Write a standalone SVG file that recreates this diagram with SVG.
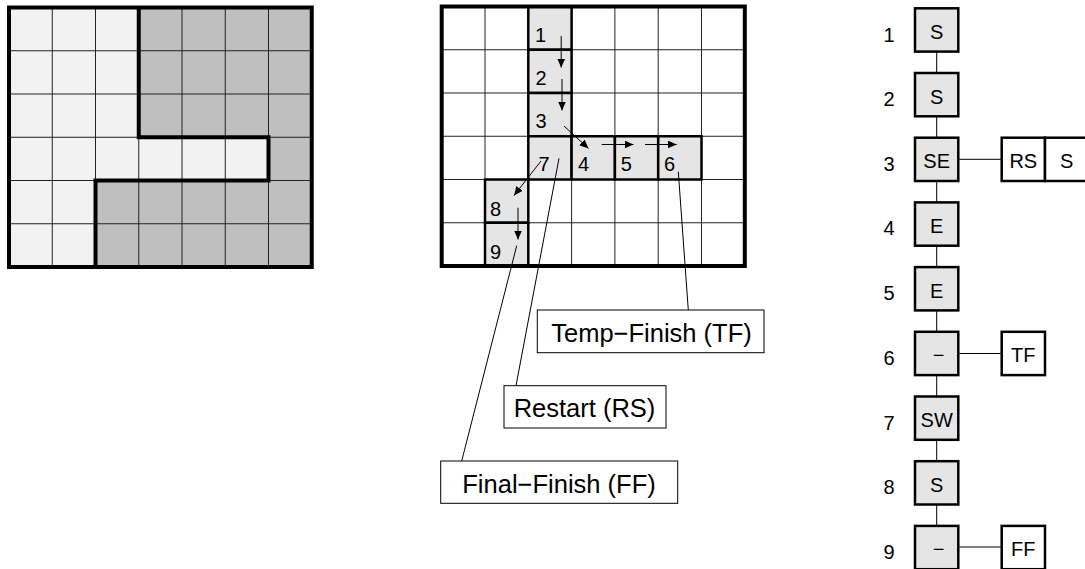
<svg xmlns="http://www.w3.org/2000/svg" width="1085" height="569" viewBox="0 0 1085 569">
<defs>
<style>
text{font-family:"Liberation Sans",Arial,sans-serif;fill:#000}
.thin{stroke:#222;stroke-width:1;fill:none}
.thick{stroke:#000;stroke-width:4;fill:none}
.cell{fill:#e5e5e5;stroke:#000;stroke-width:2.5}
.num{font-size:20px}
.mid{font-size:20px;text-anchor:middle}
.lab{font-size:25.5px;text-anchor:middle}
.lbox{fill:#fff;stroke:#000;stroke-width:1}
.arrow{stroke:#000;stroke-width:1;fill:none;marker-end:url(#ah)}
.lead{stroke:#000;stroke-width:1;fill:none}
.node{fill:#e5e5e5;stroke:#000;stroke-width:2.5}
.side{fill:#fff;stroke:#000;stroke-width:2.5}
.conn{stroke:#000;stroke-width:1;fill:none}
</style>
<marker id="ah" markerUnits="userSpaceOnUse" markerWidth="9" markerHeight="8" refX="9" refY="4" orient="auto">
<path d="M0,0 L9,4 L0,8 z" fill="#000"/>
</marker>
</defs>
<rect width="1085" height="569" fill="#fff"/>

<!-- Left grid -->
<g id="left-grid">
<rect x="9" y="7.5" width="302.75" height="259.5" fill="#f2f2f2"/>
<path d="M138.75,7.5 H311.75 V267 H95.5 V180.5 H268.5 V137.25 H138.75 Z" fill="#bfbfbf"/>
<path class="thin" d="M52.25,7.5V267M95.5,7.5V267M138.75,7.5V267M182,7.5V267M225.25,7.5V267M268.5,7.5V267M9,50.75H311.75M9,94H311.75M9,137.25H311.75M9,180.5H311.75M9,223.75H311.75"/>
<path class="thick" d="M138.75,7.5 V137.25 H268.5 V180.5 H95.5 V267"/>
<rect class="thick" x="9" y="7.5" width="302.75" height="259.5"/>
</g>

<!-- Middle grid -->
<g id="middle-grid">
<path class="thin" d="M485,6.5V266M528.3,6.5V266M571.6,6.5V266M614.9,6.5V266M658.2,6.5V266M701.5,6.5V266M441.7,49.75H744.8M441.7,93H744.8M441.7,136.25H744.8M441.7,179.5H744.8M441.7,222.75H744.8"/>
<rect class="cell" x="528.3" y="6.5" width="43.3" height="43.25"/>
<rect class="cell" x="528.3" y="49.75" width="43.3" height="43.25"/>
<rect class="cell" x="528.3" y="93" width="43.3" height="43.25"/>
<rect class="cell" x="528.3" y="136.25" width="43.3" height="43.25"/>
<rect class="cell" x="571.6" y="136.25" width="43.3" height="43.25"/>
<rect class="cell" x="614.9" y="136.25" width="43.3" height="43.25"/>
<rect class="cell" x="658.2" y="136.25" width="43.3" height="43.25"/>
<rect class="cell" x="485" y="179.5" width="43.3" height="43.25"/>
<rect class="cell" x="485" y="222.75" width="43.3" height="43.25"/>
<rect class="thick" x="441.7" y="6.5" width="303.1" height="259.5"/>
<text class="num" x="535" y="42">1</text>
<text class="num" x="535.5" y="85.2">2</text>
<text class="num" x="535.5" y="128.4">3</text>
<text class="num" x="538.5" y="170.5">7</text>
<text class="num" x="578" y="170.5">4</text>
<text class="num" x="620.8" y="170.5">5</text>
<text class="num" x="664" y="170.5">6</text>
<text class="num" x="490" y="216">8</text>
<text class="num" x="490" y="259.3">9</text>
</g>

<!-- Middle grid arrows and leaders -->
<g id="path-arrows">
<line class="arrow" x1="561.2" y1="36" x2="561.2" y2="67.5"/>
<line class="arrow" x1="562" y1="79" x2="562" y2="110.5"/>
<line class="arrow" x1="564" y1="126" x2="588.5" y2="148.5"/>
<line class="arrow" x1="601.7" y1="144.5" x2="633.5" y2="144.5"/>
<line class="arrow" x1="645" y1="144.5" x2="676.7" y2="144.5"/>
<line class="arrow" x1="541" y1="161" x2="514" y2="195.5"/>
<line class="arrow" x1="518" y1="207.7" x2="518" y2="239.5"/>
<line class="lead" x1="678.3" y1="171.7" x2="688.3" y2="310"/>
<line class="lead" x1="559" y1="158.3" x2="516" y2="385.7"/>
<line class="lead" x1="516.7" y1="245.7" x2="461.7" y2="461"/>
</g>

<g id="label-tf">
<rect class="lbox" x="537.3" y="310" width="226.7" height="42.7"/>
<text class="lab" x="651.5" y="341.7">Temp−Finish (TF)</text>
</g>
<g id="label-rs">
<rect class="lbox" x="504" y="385.7" width="162" height="42.3"/>
<text class="lab" x="584.5" y="417.3">Restart (RS)</text>
</g>
<g id="label-ff">
<rect class="lbox" x="440.7" y="461" width="237" height="42.3"/>
<text class="lab" x="559" y="492.7">Final−Finish (FF)</text>
</g>

<!-- Right column connectors -->
<g id="connectors">
<line class="conn" x1="936.7" y1="30" x2="936.7" y2="547"/>
<line class="conn" x1="958.3" y1="159.3" x2="1001.7" y2="159.3"/>
<line class="conn" x1="958.3" y1="353.5" x2="1001.7" y2="353.5"/>
<line class="conn" x1="958.3" y1="547" x2="1001.7" y2="547"/>
</g>

<g id="n1"><text class="mid" x="889" y="41.5">1</text><rect class="node" x="915" y="8.3" width="43.3" height="43.3"/><text class="mid" x="936.7" y="38.8">S</text></g>
<g id="n2"><text class="mid" x="889" y="106">2</text><rect class="node" x="915" y="73" width="43.3" height="43.3"/><text class="mid" x="936.7" y="103.5">S</text></g>
<g id="n3"><text class="mid" x="889" y="170.7">3</text><rect class="node" x="915" y="137.7" width="43.3" height="43.3"/><text class="mid" x="936.7" y="168.2">SE</text></g>
<g id="n4"><text class="mid" x="889" y="235.4">4</text><rect class="node" x="915" y="202.4" width="43.3" height="43.3"/><text class="mid" x="936.7" y="232.9">E</text></g>
<g id="n5"><text class="mid" x="889" y="300.1">5</text><rect class="node" x="915" y="267.1" width="43.3" height="43.3"/><text class="mid" x="936.7" y="297.6">E</text></g>
<g id="n6"><text class="mid" x="889" y="364.8">6</text><rect class="node" x="915" y="331.8" width="43.3" height="43.3"/><text class="mid" x="938.5" y="362.3">−</text></g>
<g id="n7"><text class="mid" x="889" y="429.5">7</text><rect class="node" x="915" y="396.5" width="43.3" height="43.3"/><text class="mid" x="936.7" y="427">SW</text></g>
<g id="n8"><text class="mid" x="889" y="494.2">8</text><rect class="node" x="915" y="461.2" width="43.3" height="43.3"/><text class="mid" x="936.7" y="491.7">S</text></g>
<g id="n9"><text class="mid" x="889" y="558.9">9</text><rect class="node" x="915" y="525.9" width="43.3" height="43.3"/><text class="mid" x="938.5" y="556.4">−</text></g>

<g id="rs"><rect class="side" x="1001.7" y="137.7" width="43.3" height="43.3"/><text class="mid" x="1023.3" y="168.2">RS</text></g>
<g id="s"><rect class="side" x="1045" y="137.7" width="43.3" height="43.3"/><text class="mid" x="1066.7" y="168.2">S</text></g>
<g id="tf"><rect class="side" x="1001.7" y="331.8" width="43.3" height="43.3"/><text class="mid" x="1023.3" y="362.3">TF</text></g>
<g id="ff"><rect class="side" x="1001.7" y="525.9" width="43.3" height="43.3"/><text class="mid" x="1023.3" y="556.4">FF</text></g>
</svg>
